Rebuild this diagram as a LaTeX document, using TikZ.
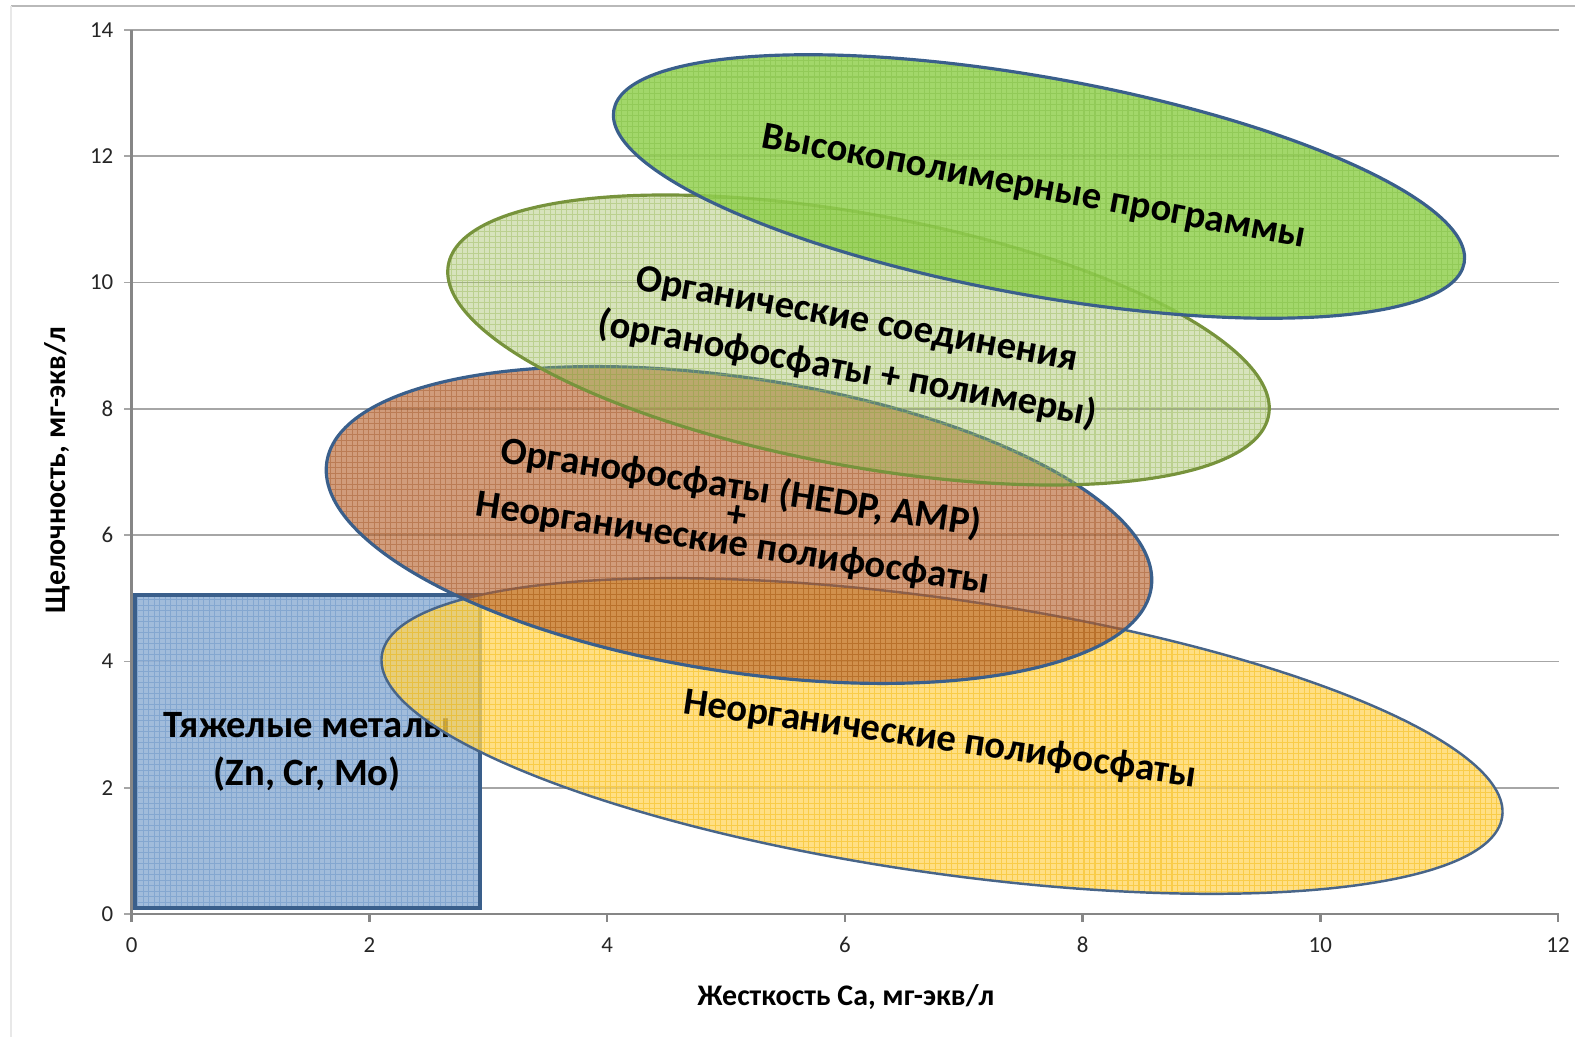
\documentclass[tikz,border=0pt]{standalone}
\usepackage{fontspec}
\setmainfont{Carlito}

\definecolor{axisgray}{HTML}{868686}
\definecolor{gridgray}{HTML}{A6A6A6}
\definecolor{edgeblue}{HTML}{3A5F8B}
\definecolor{metalfill}{HTML}{95B3D7}
\definecolor{metalgrid}{HTML}{4F81BD}
\definecolor{inorgfill}{HTML}{FFD55C}
\definecolor{inorggrid}{HTML}{F2B600}
\definecolor{phosfill}{HTML}{B5602A}
\definecolor{phosgrid}{HTML}{9A4E1C}
\definecolor{orgfill}{HTML}{9BBB59}
\definecolor{orgedge}{HTML}{77933C}
\definecolor{polyfill}{HTML}{92D050}
\definecolor{polygrid}{HTML}{6FAF30}

\tikzset{
  ticklbl/.style={font=\fontsize{6.5}{7}\selectfont, text=black!85, inner sep=0pt},
  axtitle/.style={font=\bfseries\fontsize{8.5}{10}\selectfont, inner sep=0pt},
  zonelbl/.style={font=\bfseries\fontsize{11}{13.5}\selectfont, align=center, inner sep=0pt},
  zone/.style={line width=0.9pt},
  texgrid/.style={draw=#1, line width=0.3pt, step=0.055cm}
}

\begin{document}
\begin{tikzpicture}[x=0.01cm,y=-0.01cm]
  \useasboundingbox[fill=white] (0,0) rectangle (1575,1037);

  % chart frame
  \draw[gray!55, line width=0.7pt] (11,6) -- (1575,6);
  \draw[gray!18, line width=0.5pt] (11,6) -- (11,1037);

  % grid and y ticks
  \foreach \v in {0,2,...,14} {
    \pgfmathsetmacro\yy{914-63.14*\v}
    \draw[gridgray, line width=0.5pt] (124,\yy) -- (1559,\yy);
    \node[ticklbl, anchor=east] (ylab\v) at (114,\yy) {\v};
  }
  % x ticks
  \foreach \u in {0,2,...,12} {
    \pgfmathsetmacro\xx{131.6+118.87*\u}
    \draw[axisgray, line width=0.7pt] (\xx,914) -- (\xx,922);
    \node[ticklbl] (xlab\u) at (\xx,945) {\u};
  }
  \draw[axisgray, line width=0.8pt] (131.6,30) -- (131.6,914) -- (1559,914);

  % heavy metals
  \fill[metalfill, fill opacity=.88] (135,595) rectangle (480,908);
  \begin{scope}
    \clip (135,595) rectangle (480,908);
    \draw[texgrid=metalgrid, draw opacity=.35] (125,585) grid (490,918);
  \end{scope}
  \draw[zone, edgeblue] (135,595) rectangle (480,908);
  \node[zonelbl] (metals) at (307,752) {Тяжелые металы\\(Zn, Cr, Mo)};

  % inorganic polyphosphates
  \fill[inorgfill, fill opacity=.75, rotate around={-8.2:(942,736)}] (942,736) ellipse [x radius=566, y radius=137];
  \begin{scope}
    \clip[rotate around={-8.2:(942,736)}] (942,736) ellipse [x radius=566, y radius=137];
    \draw[texgrid=inorggrid, draw opacity=.45] (368,565) grid (1516,907);
  \end{scope}
  \draw[zone, line width=0.7pt, edgeblue!80!gray, rotate around={-8.2:(942,736)}] (942,736) ellipse [x radius=566, y radius=137];
  \node[zonelbl, rotate=-8.2] (inorg) at (940,740) {Неорганические полифосфаты};

  % organophosphates + polyphosphates
  \fill[phosfill, fill opacity=.62, rotate around={-8.7:(739,525)}] (739,525) ellipse [x radius=417, y radius=147];
  \begin{scope}
    \clip[rotate around={-8.7:(739,525)}] (739,525) ellipse [x radius=417, y radius=147];
    \draw[texgrid=phosgrid, draw opacity=.4] (314,354) grid (1164,696);
  \end{scope}
  \draw[zone, edgeblue, rotate around={-8.7:(739,525)}] (739,525) ellipse [x radius=417, y radius=147];
  \node[zonelbl, rotate=-8.7] (phos) at (737,516)
    {Органофосфаты (HEDP, AMP)\\[-5.5pt]+\\[-5.5pt]Неорганические полифосфаты};

  % organic compounds
  \fill[orgfill, fill opacity=.4, rotate around={-10.4:(858.5,340)}] (858.5,340) ellipse [x radius=417, y radius=126];
  \begin{scope}
    \clip[rotate around={-10.4:(858.5,340)}] (858.5,340) ellipse [x radius=417, y radius=126];
    \draw[texgrid=orgfill, draw opacity=.45] (435,182) grid (1282,498);
  \end{scope}
  \draw[zone, orgedge, rotate around={-10.4:(858.5,340)}] (858.5,340) ellipse [x radius=417, y radius=126];
  \node[zonelbl, rotate=-10.4] (org) at (852,346)
    {Органические соединения\\[1pt](органофосфаты + полимеры)};

  % high polymer programs
  \fill[polyfill, fill opacity=.85, rotate around={-10.2:(1039,186.5)}] (1039,186.5) ellipse [x radius=432, y radius=109];
  \begin{scope}
    \clip[rotate around={-10.2:(1039,186.5)}] (1039,186.5) ellipse [x radius=432, y radius=109];
    \draw[texgrid=polygrid, draw opacity=.3] (600,42) grid (1478,330);
  \end{scope}
  \draw[zone, edgeblue, rotate around={-10.2:(1039,186.5)}] (1039,186.5) ellipse [x radius=432, y radius=109];
  \node[zonelbl, rotate=-10.5] (poly) at (1034,188) {Высокополимерные программы};

  % axis titles
  \node[axtitle] (xtitle) at (846,997) {Жесткость Ca, мг-экв/л};
  \node[axtitle, rotate=90] (ytitle) at (57,470) {Щелочность, мг-экв/л};
\end{tikzpicture}
\end{document}
